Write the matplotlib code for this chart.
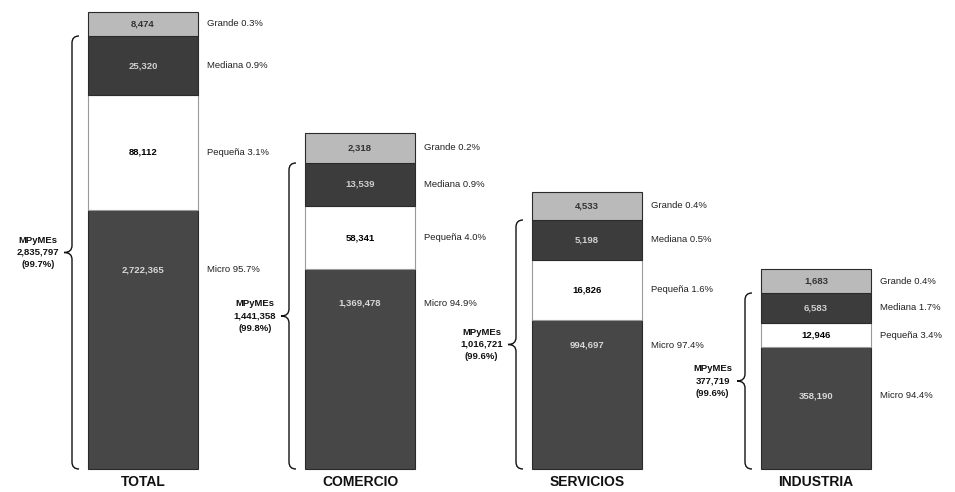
import matplotlib.pyplot as plt
from matplotlib.path import Path
from matplotlib.patches import PathPatch

plt.rcParams['font.family'] = ['Liberation Sans', 'DejaVu Sans']

sectores = ["TOTAL", "COMERCIO", "SERVICIOS", "INDUSTRIA"]

# unidades económicas por tamaño de empresa
micro = [2722365, 1369478, 994697, 358190]
pequena = [88112, 58341, 16826, 12946]
mediana = [25320, 13539, 5198, 6583]
grande = [8474, 2318, 4533, 1683]

# alto de cada tramo en el esquema (no proporcional a los valores)
alto_micro = [259, 200, 149, 122]
alto_pequena = [115, 63, 60, 24]
alto_mediana = [59, 43, 40, 30]
alto_grande = [24, 30, 28, 24]

centros = [143, 360, 587, 816]
ancho = 110
# distancia del rotulo "Micro" bajo el borde superior del tramo
desp_micro = [60, 34, 25, 49]

col_micro = "#474747"
col_pequena = "#ffffff"
col_mediana = "#3c3c3c"
col_grande = "#bababa"


def fmt(n):
    return f"{n:,}"


def llave(ax, x0, y0, y1, w=7, d=8):
    ym = (y0 + y1) / 2
    verts = [(x0 + w, y1), (x0, y1), (x0, y1 - w),
             (x0, ym + w),
             (x0, ym), (x0 - d, ym),
             (x0, ym), (x0, ym - w),
             (x0, y0 + w),
             (x0, y0), (x0 + w, y0)]
    codes = [Path.MOVETO, Path.CURVE3, Path.CURVE3,
             Path.LINETO,
             Path.CURVE3, Path.CURVE3,
             Path.CURVE3, Path.CURVE3,
             Path.LINETO,
             Path.CURVE3, Path.CURVE3]
    ax.add_patch(PathPatch(Path(verts, codes), fill=False, lw=1.0, ec="#111111"))
    return ym


fig = plt.figure(figsize=(9.55, 4.92), dpi=100)
ax = fig.add_axes([0, 0, 1, 1])
ax.set_xlim(0, 955)
ax.set_ylim(-23, 469)
ax.axis("off")

for i, sec in enumerate(sectores):
    x = centros[i]
    total = micro[i] + pequena[i] + mediana[i] + grande[i]
    mpy = micro[i] + pequena[i] + mediana[i]

    tramos = [("Micro", micro[i], alto_micro[i], col_micro, "#d8d8d8"),
              ("Pequeña", pequena[i], alto_pequena[i], col_pequena, "#000000"),
              ("Mediana", mediana[i], alto_mediana[i], col_mediana, "#d0d0d0"),
              ("Grande", grande[i], alto_grande[i], col_grande, "#333333")]

    base = 0
    for nombre, valor, alto, color, ctxt in tramos:
        ec = "#9a9a9a" if color == col_pequena else "#2a2a2a"
        ax.bar(x, alto, width=ancho, bottom=base, color=color, edgecolor=ec, linewidth=0.8)
        if nombre == "Micro":
            yt = alto - desp_micro[i]
        else:
            yt = base + alto / 2
        ax.text(x, yt, fmt(valor), ha="center", va="center", fontsize=6.8,
                fontweight="bold", color=ctxt)
        ax.text(x + ancho / 2 + 9, yt, f"{nombre} {100 * valor / total:.1f}%",
                ha="left", va="center", fontsize=6.8, color="#222222")
        base += alto

    # llave de las MPyMEs
    alto_mpy = alto_micro[i] + alto_pequena[i] + alto_mediana[i]
    xl = x - ancho / 2 - 16
    ym = llave(ax, xl, 0, alto_mpy)
    ax.text(xl - 13, ym, f"MPyMEs\n{fmt(mpy)}\n({100 * mpy / total:.1f}%)",
            ha="right", va="center", ma="center", fontsize=6.8,
            fontweight="bold", linespacing=1.45, color="#111111")

    ax.text(x, -13, sec, ha="center", va="center", fontsize=10,
            fontweight="bold", color="#111111")

fig.savefig("out.png", dpi=100)
